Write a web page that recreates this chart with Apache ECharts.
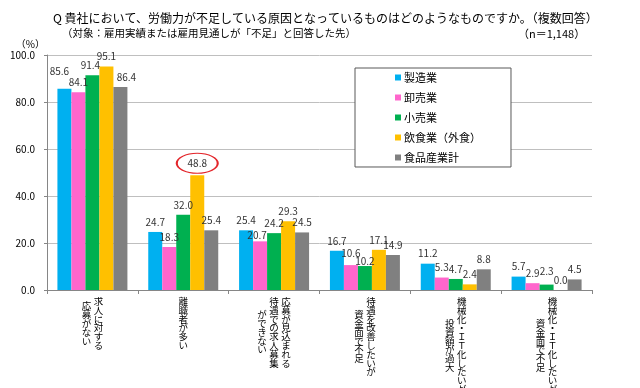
<!DOCTYPE html>
<html>
<head>
<meta charset="utf-8">
<script src="https://cdn.jsdelivr.net/npm/echarts@6/dist/echarts.min.js"></script>
<style>
html,body{margin:0;padding:0;background:#fff;}
#chart{width:640px;height:388px;}
</style>
</head>
<body>
<div id="chart"></div>
<script>
// ---- data ----
const categories = [
  '求人に対する\n応募がない',
  '離職者が多い',
  '応募が見込まれる\n待遇での求人募集\nができない',
  '待遇を改善したいが\n資金面で不足',
  '機械化・ＩＴ化したいが\n投資額が過大',
  '機械化・ＩＴ化したいが\n資金面で不足'
];
const seriesNames = ['製造業', '卸売業', '小売業', '飲食業（外食）', '食品産業計'];
const manufacturing = [85.6, 24.7, 25.4, 16.7, 11.2, 5.7];
const wholesale     = [84.1, 18.3, 20.7, 10.6, 5.3, 2.9];
const retail        = [91.4, 32.0, 24.2, 10.2, 4.7, 2.3];
const foodService   = [95.1, 48.8, 29.3, 17.1, 2.4, 0.0];
const foodTotal     = [86.4, 25.4, 24.5, 14.9, 8.8, 4.5];
const yTicks = [0, 20, 40, 60, 80, 100];
const titleText = 'Q 貴社において、労働力が不足している原因となっているものはどのようなものですか。（複数回答）';
const subText = '（対象：雇用実績または雇用見通しが「不足」と回答した先）';
const nText = '（n＝1,148）';
const unitText = '（%）';

// ---- styles ----
const FONT = '"Noto Sans CJK JP", "Noto Sans", sans-serif';
const colors = ['#00B0F0', '#FF66CC', '#00B050', '#FFC000', '#808080'];
const ROW = 8.8;
const labelOffsets = {
  '0-0': [-5, -8], '2-0': [-2, 0], '4-0': [6, 0],
  '3-1': [0, -2],
  '1-2': [-3, 4],
  '1-3': [0, -2], '2-3': [0, 5],
  '2-5': [0, -3]
};

// Vertical (tategaki) label: columns right-to-left, each column vertically centred.
// parity 0 -> columns on whole-row offsets, parity 1 -> columns on half-row offsets
function verticalLabel(str, parity) {
  const cols = str.split('\n').map(s => Array.from(s));
  const maxLen = Math.max.apply(null, cols.map(c => c.length));
  const lines = [];
  let any = false;
  for (let r = 0; r < maxLen; r++) {
    let line = '';
    for (let c = cols.length - 1; c >= 0; c--) {
      const col = cols[c];
      const half = maxLen - col.length;
      let ch = '　';
      if (half % 2 === parity) {
        const k = r - Math.floor(half / 2);
        if (k >= 0 && k < col.length) { ch = col[k]; any = true; }
      }
      line += '{c|' + ch + '}';
    }
    lines.push(line);
  }
  return any ? lines.join('\n') : '';
}

const allValues = [manufacturing, wholesale, retail, foodService, foodTotal];

const series = allValues.map((vals, si) => {
  const s = {
    name: seriesNames[si],
    type: 'bar',
    barWidth: 14,
    barGap: '0%',
    itemStyle: { color: colors[si] },
    label: {
      show: true, position: 'top', distance: 5,
      fontSize: 10, fontFamily: FONT, color: '#333',
      formatter: p => Number(p.value).toFixed(1)
    },
    data: vals.map((v, i) => {
      const o = labelOffsets[si + '-' + i];
      return o ? { value: v, label: { offset: o } } : v;
    })
  };
  if (si === 3) {
    s.markPoint = {
      silent: true,
      symbol: 'circle',
      symbolSize: [41, 20],
      symbolOffset: [0, -12],
      itemStyle: { color: 'rgba(0,0,0,0)', borderColor: '#E3262B', borderWidth: 1.5 },
      label: { show: false },
      data: [{ coord: [1, foodService[1]] }]
    };
  }
  return s;
});

const richC = { c: { width: 12, align: 'center', fontSize: 9.5, lineHeight: ROW, color: '#000', fontFamily: FONT } };

const chart = echarts.init(document.getElementById('chart'), null, { renderer: 'canvas' });
chart.setOption({
  backgroundColor: '#fff',
  animation: false,
  title: [
    { text: titleText, left: 53, top: 12, padding: 0,
      textStyle: { fontSize: 12, fontWeight: 'normal', color: '#000', fontFamily: FONT } },
    { text: subText, left: 62, top: 28, padding: 0,
      textStyle: { fontSize: 10.5, fontWeight: 'normal', color: '#000', fontFamily: FONT } },
    { text: nText, left: 518, top: 28, padding: 0,
      textStyle: { fontSize: 11, fontWeight: 'normal', color: '#000', fontFamily: FONT } }
  ],
  legend: {
    orient: 'vertical',
    left: 355, top: 68,
    padding: [4, 30, 4, 40],
    itemWidth: 6, itemHeight: 6, itemGap: 9,
    icon: 'rect',
    backgroundColor: '#fff',
    borderColor: '#595959', borderWidth: 1,
    textStyle: { fontSize: 11, fontFamily: FONT, color: '#000', padding: [0, 0, 0, -2] },
    data: seriesNames
  },
  grid: { left: 47, right: 48, top: 55, bottom: 98, containLabel: false, outerBoundsMode: 'none' },
  xAxis: [
    {
      type: 'category',
      position: 'bottom',
      data: categories,
      axisLine: { lineStyle: { color: '#868686', width: 1 } },
      axisTick: { show: true, length: 4, alignWithLabel: false, lineStyle: { color: '#868686' } },
      axisLabel: {
        interval: 0, margin: 7, lineHeight: ROW,
        formatter: v => verticalLabel(v, 0),
        rich: richC
      },
      splitLine: { show: false }
    },
    {
      type: 'category',
      position: 'bottom',
      data: categories,
      axisLine: { show: false },
      axisTick: { show: false },
      axisLabel: {
        interval: 0, margin: 7 + ROW / 2, lineHeight: ROW,
        formatter: v => verticalLabel(v, 1),
        rich: richC
      },
      splitLine: { show: false }
    }
  ],
  yAxis: {
    type: 'value',
    min: yTicks[0], max: yTicks[yTicks.length - 1], interval: yTicks[1] - yTicks[0],
    name: unitText,
    nameLocation: 'end',
    nameGap: 6,
    nameTextStyle: { fontSize: 10, fontFamily: FONT, color: '#000', align: 'right', padding: [0, 2, 0, 0] },
    axisLine: { show: true, lineStyle: { color: '#868686', width: 1 } },
    axisTick: { show: true, length: 3, lineStyle: { color: '#868686' } },
    axisLabel: { fontSize: 10, fontFamily: FONT, color: '#000', margin: 12, formatter: v => v.toFixed(1) },
    splitLine: { show: true, lineStyle: { color: '#BFBFBF', width: 1 } }
  },
  series: series
});
</script>
</body>
</html>
